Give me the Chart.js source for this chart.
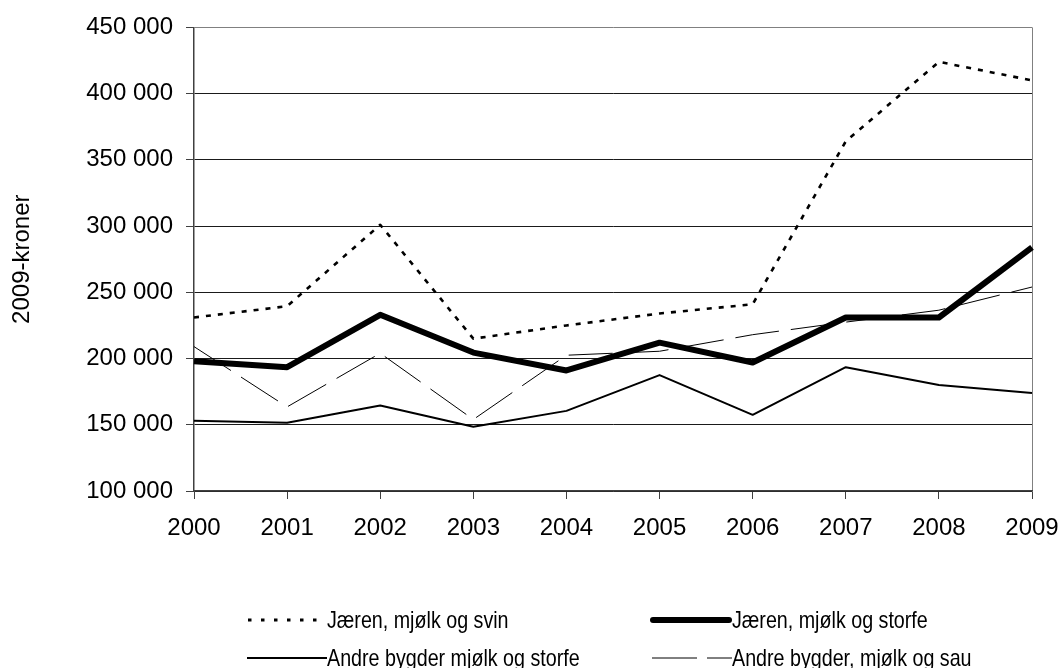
<!DOCTYPE html>
<html>
<head>
<meta charset="utf-8">
<script src="https://cdn.jsdelivr.net/npm/chart.js@4/dist/chart.umd.min.js"></script>
<style>
  html, body { margin: 0; padding: 0; background: #fff; }
  #wrap { position: relative; width: 1061px; height: 668px; overflow: hidden; }
  #c { position: absolute; left: 0; top: 0; }
  .lg { position: absolute; font-family: "Liberation Sans", Arial, sans-serif; font-size: 24px; color: #000; white-space: nowrap; line-height: 28px; }
  .lg svg { position: absolute; top: 0; }
  .lg span { position: absolute; top: 0; transform: scaleX(0.82); transform-origin: 0 50%; }
</style>
</head>
<body>
<div id="wrap">
  <canvas id="c" width="1061" height="668"></canvas>
</div>
<script>
const years = ['2000','2001','2002','2003','2004','2005','2006','2007','2008','2009'];
const jarenSvin   = [231000, 239500, 301000, 215000, 225000, 234000, 241000, 364000, 424000, 410000];
const jarenStorfe = [198000, 193500, 233000, 204500, 191000, 212000, 197000, 231000, 231000, 284000];
const andreStorfe = [153000, 151500, 164500, 148500, 160500, 187500, 157500, 193500, 180000, 174000];
const andreSau    = [209000, 163500, 204000, 154000, 202500, 205500, 218000, 227500, 236500, 254000];
const seriesNames = ['Jæren, mjølk og svin', 'Jæren, mjølk og storfe', 'Andre bygder mjølk og storfe', 'Andre bygder, mjølk og sau'];
const yMin = 100000, yMax = 450000, yStep = 50000;
const yTitle = '2009-kroner';

const fmt = v => String(v).replace(/\B(?=(\d{3})+(?!\d))/g, ' ');

const styles = [
  { borderWidth: 2.6, borderDash: [5, 7] },
  { borderWidth: 6, borderDash: [] },
  { borderWidth: 2, borderDash: [] },
  { borderWidth: 1, borderDash: [44, 12] }
];
const dataArrays = [jarenSvin, jarenStorfe, andreStorfe, andreSau];

const datasets = dataArrays.map((d, i) => ({
  label: seriesNames[i],
  data: d,
  borderColor: '#000',
  backgroundColor: '#000',
  borderWidth: styles[i].borderWidth,
  borderDash: styles[i].borderDash,
  pointRadius: 0,
  tension: 0,
  fill: false,
  borderJoinStyle: 'round'
}));

const tickFont = { family: '"Liberation Sans", Arial, sans-serif', size: 24 };

new Chart(document.getElementById('c'), {
  type: 'line',
  data: { labels: years, datasets: datasets.slice().reverse() },
  options: {
    responsive: false,
    animation: false,
    events: [],
    layout: { padding: { left: 0, top: 27, right: 29, bottom: 117 } },
    plugins: { legend: { display: false }, tooltip: { enabled: false } },
    scales: {
      x: {
        type: 'category',
        offset: false,
        grid: {
          drawOnChartArea: true,
          color: ctx => (ctx.index === years.length - 1 ? '#808080' : 'rgba(0,0,0,0)'),
          tickColor: '#404040',
          tickLength: 8,
          lineWidth: 1
        },
        border: { display: true, color: '#404040', width: 1.5 },
        ticks: { font: tickFont, color: '#000', padding: 15, maxRotation: 0, autoSkip: false },
        afterFit: s => { s.height = 60; s.paddingLeft = 0; s.paddingRight = 0; }
      },
      y: {
        min: yMin, max: yMax,
        grid: {
          color: ctx => (ctx.tick && ctx.tick.value === yMax ? '#808080' : '#1a1a1a'),
          tickColor: '#404040',
          tickLength: 8,
          lineWidth: 1
        },
        border: { display: true, color: '#404040', width: 1.5 },
        ticks: { stepSize: yStep, font: tickFont, color: '#000', padding: 13, callback: v => fmt(v) },
        title: { display: true, text: yTitle, font: tickFont, color: '#000', padding: { top: 8, bottom: 0 } },
        afterFit: s => { s.width = 194; }
      }
    }
  }
});

// legend (HTML)
const legendPos = [
  { x: 247, y: 606, lineW: 80 },
  { x: 650, y: 606, lineW: 82 },
  { x: 247, y: 644, lineW: 80 },
  { x: 650, y: 644, lineW: 82 }
];
const wrap = document.getElementById('wrap');
seriesNames.forEach((name, i) => {
  const p = legendPos[i];
  const div = document.createElement('div');
  div.className = 'lg';
  div.style.left = p.x + 'px';
  div.style.top = p.y + 'px';
  let line;
  if (i === 0) {
    line = `<line x1="1" y1="14" x2="${p.lineW - 4}" y2="14" stroke="#000" stroke-width="3" stroke-dasharray="3.5 9.5"/>`;
  } else if (i === 1) {
    line = `<line x1="3" y1="14" x2="${p.lineW - 3}" y2="14" stroke="#000" stroke-width="6" stroke-linecap="round"/>`;
  } else if (i === 2) {
    line = `<line x1="0" y1="14" x2="${p.lineW}" y2="14" stroke="#000" stroke-width="2"/>`;
  } else {
    line = `<line x1="2" y1="14" x2="${p.lineW}" y2="14" stroke="#000" stroke-width="1" stroke-dasharray="45 10"/>`;
  }
  div.innerHTML = `<svg width="${p.lineW}" height="28" style="left:0">${line}</svg><span style="left:${p.lineW}px">${name}</span>`;
  wrap.appendChild(div);
});
</script>
</body>
</html>
